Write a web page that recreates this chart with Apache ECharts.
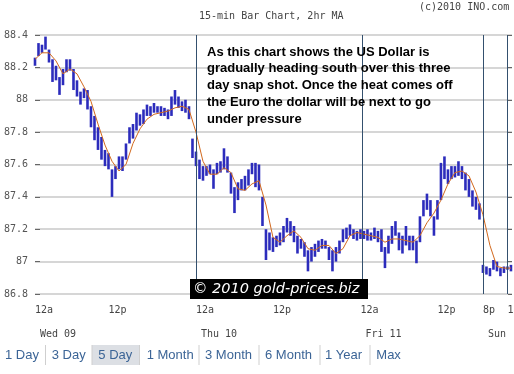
<!DOCTYPE html>
<html><head><meta charset="utf-8">
<script src="https://cdn.jsdelivr.net/npm/echarts@6/dist/echarts.min.js"></script>
<style>html,body{margin:0;padding:0;background:#fff;}#c{width:514px;height:374px;}</style>
</head><body><div id="c"></div>
<script>
// 30-minute bar slots (index 0 = Wed 09 12a)
const barLow = [88.21,88.27,88.29,88.31,88.23,88.11,88.12,88.03,88.09,88.17,88.18,88.06,88.02,87.97,88.01,87.94,87.83,87.75,87.69,87.63,
87.59,87.57,87.40,87.51,87.57,87.56,87.63,87.73,87.76,87.81,87.84,87.85,87.90,87.90,87.92,87.92,87.90,87.90,87.88,87.90,
87.97,87.95,87.93,87.92,87.88,87.64,87.59,87.51,87.50,87.53,87.54,87.45,87.54,87.55,87.57,87.55,87.42,87.30,87.38,87.44,
87.44,87.47,87.54,87.46,87.44,87.22,87.01,87.07,87.06,87.09,87.10,87.12,87.18,87.16,87.12,87.05,87.08,87.03,86.94,87.00,
87.03,87.06,87.08,87.08,87.01,86.94,87.00,87.05,87.12,87.14,87.16,87.14,87.13,87.14,87.14,87.13,87.13,87.14,87.12,87.06,
86.96,87.05,87.11,87.16,87.07,87.05,87.10,87.07,87.07,86.99,87.12,87.28,87.32,87.28,87.16,87.26,87.38,87.51,87.48,87.51,
87.52,87.53,87.51,87.44,87.40,87.34,87.32,87.26,86.93,86.92,86.91,86.95,86.94,86.91,86.93,86.95,86.94];
const barHigh = [88.26,88.35,88.34,88.39,88.31,88.25,88.21,88.14,88.19,88.25,88.25,88.19,88.12,88.05,88.07,88.06,87.96,87.90,87.83,87.77,
87.69,87.67,87.57,87.59,87.65,87.65,87.73,87.83,87.85,87.92,87.91,87.94,87.97,87.96,87.98,87.96,87.96,87.95,87.94,88.02,
88.06,88.02,87.99,88.00,87.96,87.76,87.68,87.63,87.59,87.59,87.60,87.57,87.61,87.62,87.70,87.65,87.55,87.46,87.49,87.51,
87.53,87.57,87.61,87.61,87.60,87.40,87.20,87.18,87.15,87.16,87.18,87.22,87.27,87.25,87.22,87.16,87.14,87.12,87.07,87.09,
87.11,87.13,87.14,87.13,87.09,87.07,87.09,87.13,87.20,87.21,87.23,87.20,87.19,87.20,87.19,87.20,87.18,87.21,87.19,87.20,
87.09,87.16,87.22,87.25,87.18,87.16,87.22,87.16,87.16,87.13,87.28,87.38,87.42,87.38,87.28,87.38,87.61,87.65,87.57,87.59,
87.59,87.62,87.59,87.55,87.51,87.44,87.40,87.36,86.98,86.97,86.96,87.01,87.00,86.96,86.97,86.97,86.98];
// 2-hour moving average, read every second slot
const maValues = [88.25,88.29,88.29,88.24,88.16,88.19,88.16,88.08,87.99,87.85,87.72,87.62,87.56,87.60,87.73,87.82,87.88,87.91,87.92,87.93,
87.95,87.96,87.94,87.80,87.62,87.54,87.54,87.58,87.55,87.45,87.44,87.48,87.50,87.35,87.15,87.12,87.16,87.19,87.15,87.08,
87.07,87.10,87.10,87.05,87.08,87.16,87.18,87.17,87.16,87.15,87.12,87.14,87.14,87.13,87.12,87.16,87.24,87.30,87.38,87.48,
87.55,87.56,87.53,87.43,87.29,87.10,86.97,86.96,86.96];
const xLabelSlots = [0, 21, 46, 68, 93, 115, 128, 135];
const xLabelTop = ['12a','12p','12a','12p','12a','12p','8p','12a'];
const xLabelBottom = ['Wed 09','','Thu 10','','Fri 11','','Sun',''];
const dayLines = [46, 93.4, 128, 135];
const noteLines = ['As this chart shows the US Dollar is','gradually heading south over this three','day snap shot. Once the heat comes off','the Euro the dollar will be next to go','under pressure'];
const rangeTabs = ['1 Day','3 Day','5 Day','1 Month','3 Month','6 Month','1 Year','Max'];
const rangeTabX = [5, 51.7, 98.3, 146.7, 205, 265, 325, 376.3];
const rangeSepX = [45.5, 92, 139.5, 199, 259, 320, 370];

const chart = echarts.init(document.getElementById('c'), null, {renderer:'canvas'});
const mono = '"DejaVu Sans Mono", monospace';
const graphics = [];
graphics.push({type:'text', x:199, y:16, z:100, style:{text:'15-min Bar Chart, 2hr MA', font:'10px '+mono, fill:'#444', verticalAlign:'middle'}});
graphics.push({type:'text', x:419, y:7, z:100, style:{text:'(c)2010 INO.com', font:'10px '+mono, fill:'#444', verticalAlign:'middle'}});
noteLines.forEach((t,k)=>graphics.push({type:'text', x:207, y:52.2+k*16.7, z:100, style:{text:t, font:'bold 13px "Liberation Sans", Arial, sans-serif', fill:'#000', verticalAlign:'middle'}}));
graphics.push({type:'rect', z:100, shape:{x:190, y:279, width:178, height:20}, style:{fill:'#000'}});
graphics.push({type:'text', x:193, y:289.5, z:101, style:{text:'\u00a9 2010 gold-prices.biz', font:'italic 14.5px "DejaVu Sans", sans-serif', fill:'#fff', verticalAlign:'middle'}});
graphics.push({type:'rect', z:100, shape:{x:92, y:345, width:47.5, height:20}, style:{fill:'#dcdfe4'}});
rangeSepX.forEach(x=>graphics.push({type:'line', z:100, shape:{x1:x, y1:345, x2:x, y2:365}, style:{stroke:'#cfcfcf', lineWidth:1}}));
rangeTabs.forEach((t,k)=>graphics.push({type:'text', x:rangeTabX[k], y:355.5, z:101, style:{text:t, font:'13px "Liberation Sans", Arial, sans-serif', fill:'#3b6496', verticalAlign:'middle'}}));

chart.setOption({
  animation:false,
  backgroundColor:'#fff',
  grid:{left:35, right:2, top:35, bottom:80, outerBoundsMode:'none', containLabel:false},
  xAxis:{type:'value', min:0, max:136.3, interval:1,
    axisLine:{show:false}, axisTick:{show:false}, splitLine:{show:false},
    axisLabel:{margin:4, align:'left', showMaxLabel:false, hideOverlap:false,
      formatter:function(v){const k=xLabelSlots.indexOf(Math.round(v)); if(k<0||Math.abs(v-Math.round(v))>1e-6) return ''; return xLabelBottom[k]?('{a|'+xLabelTop[k]+'}\n{b|'+xLabelBottom[k]+'}'):('{a|'+xLabelTop[k]+'}');},
      rich:{a:{fontFamily:mono, fontSize:10, color:'#444', lineHeight:24, align:'left'},
            b:{fontFamily:mono, fontSize:10, color:'#444', lineHeight:24, align:'left', padding:[0,0,0,5]}}}},
  yAxis:[{type:'value', min:86.8, max:88.4, interval:0.2,
    axisLine:{show:false},
    axisTick:{show:true, inside:true, length:5, lineStyle:{color:'#666'}},
    splitLine:{lineStyle:{color:'#d6d6d6', width:2}},
    axisLabel:{margin:7, fontFamily:mono, fontSize:10, color:'#555'}},
    {type:'value', min:86.8, max:88.4, interval:0.2, position:'right',
    axisLine:{show:false}, splitLine:{show:false}, axisLabel:{show:false},
    axisTick:{show:true, inside:true, length:4, lineStyle:{color:'#666'}}}],
  series:[
    {type:'custom', data:barLow.map((lo,i)=>[i, lo, barHigh[i]]), encode:{x:0, y:[1,2]}, z:2,
      renderItem:function(params, api){
        const x=api.value(0); const top=api.coord([x, api.value(2)]); const bot=api.coord([x, api.value(1)]);
        return {type:'rect', shape:{x:top[0]-1.3, y:top[1], width:2.6, height:Math.max(1, bot[1]-top[1])}, style:{fill:'#2c2cbc'}};
      }},
    {type:'line', data:maValues.map((v,k)=>[2*k, v]), symbol:'none', z:3,
      lineStyle:{color:'#d2691e', width:1},
      markLine:{silent:true, symbol:'none', label:{show:false}, lineStyle:{color:'#34506e', type:'solid', width:1},
        data:dayLines.map(x=>({xAxis:x}))}}
  ],
  graphic:graphics
});
</script></body></html>
